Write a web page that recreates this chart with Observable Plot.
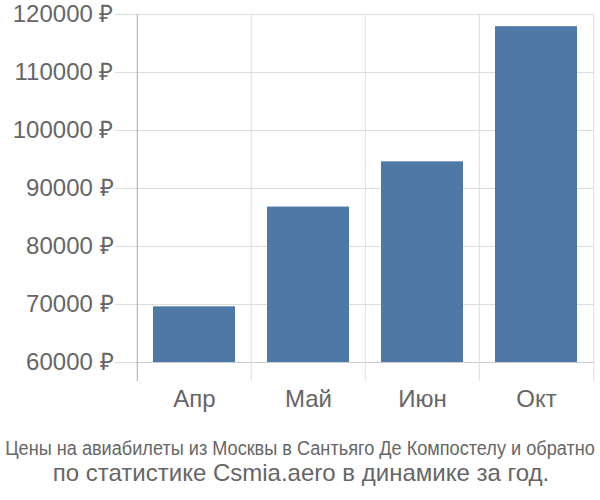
<!DOCTYPE html>
<html>
<head>
<meta charset="utf-8">
<script src="https://cdn.jsdelivr.net/npm/d3@7"></script>
<script src="https://cdn.jsdelivr.net/npm/@observablehq/plot@0.6"></script>
<style>
  html, body { margin: 0; padding: 0; background: #fff; }
  #chart svg { display: block; }
</style>
</head>
<body>
<div id="chart"></div>
<script>
const months = ["Апр", "Май", "Июн", "Окт"];
const prices = [69600, 86800, 94600, 117900];
const yTicks = [60000, 70000, 80000, 90000, 100000, 110000, 120000];
const captionLines = [
  "Цены на авиабилеты из Москвы в Сантьяго Де Компостелу и обратно",
  "по статистике Csmia.aero в динамике за год."
];

const data = months.map((m, i) => ({month: m, price: prices[i]}));
const W = 600, H = 420, mL = 136, mR = 6;
const half = (W - mL - mR) / months.length / 2;

const chart = Plot.plot({
  width: W,
  height: H,
  marginLeft: mL,
  marginRight: mR,
  marginTop: 14,
  marginBottom: 58,
  style: {fontFamily: "'Liberation Sans', Arial, sans-serif", color: "#666", background: "#fff"},
  x: {domain: months, padding: 0, label: null},
  y: {domain: [yTicks[0], yTicks[yTicks.length - 1]], label: null},
  marks: [
    Plot.gridY(yTicks, {stroke: "#ddd", strokeOpacity: 1}),
    Plot.ruleY([yTicks[0]], {stroke: "#ccc"}),
    Plot.ruleX(months.slice(1), {x: d => d, dx: -half, stroke: "#ddd", insetBottom: -19}),
    Plot.ruleX(months.slice(-1), {x: d => d, dx: half, stroke: "#ddd", insetBottom: -19}),
    Plot.ruleX(months.slice(0, 1), {x: d => d, dx: -half, stroke: "#aaa", insetBottom: -19}),
    Plot.barY(data, {x: "month", y1: () => yTicks[0], y2: "price", fill: "#4e79a7", insetLeft: 16, insetRight: 16}),
    Plot.axisY(yTicks, {tickSize: 21, tickPadding: 2, stroke: "#ddd", fill: "#666", fontSize: 24, tickFormat: d => d + " ₽"}),
    Plot.axisX({tickSize: 0, tickPadding: 27, fill: "#666", fontSize: 24})
  ]
});
document.getElementById("chart").appendChild(chart);

const ns = "http://www.w3.org/2000/svg";
const cap = document.createElementNS(ns, "svg");
cap.setAttribute("width", W);
cap.setAttribute("height", 80);
cap.style.display = "block";
document.body.appendChild(cap);

const g1 = document.createElementNS(ns, "g");
const t1 = document.createElementNS(ns, "text");
t1.setAttribute("text-anchor", "middle");
t1.setAttribute("font-family", "'Liberation Sans', Arial, sans-serif");
t1.setAttribute("font-size", "21");
t1.setAttribute("fill", "#666");
t1.textContent = captionLines[0];
g1.appendChild(t1);
cap.appendChild(g1);
const natural = t1.getComputedTextLength();
const sx = Math.min(1, 590 / natural);
g1.setAttribute("transform", `translate(300,35) scale(${sx},1)`);

const t2 = document.createElementNS(ns, "text");
t2.setAttribute("x", 301); t2.setAttribute("y", 61);
t2.setAttribute("text-anchor", "middle");
t2.setAttribute("font-family", "'Liberation Sans', Arial, sans-serif");
t2.setAttribute("font-size", "24");
t2.setAttribute("fill", "#666");
t2.textContent = captionLines[1];
cap.appendChild(t2);
</script>
</body>
</html>
